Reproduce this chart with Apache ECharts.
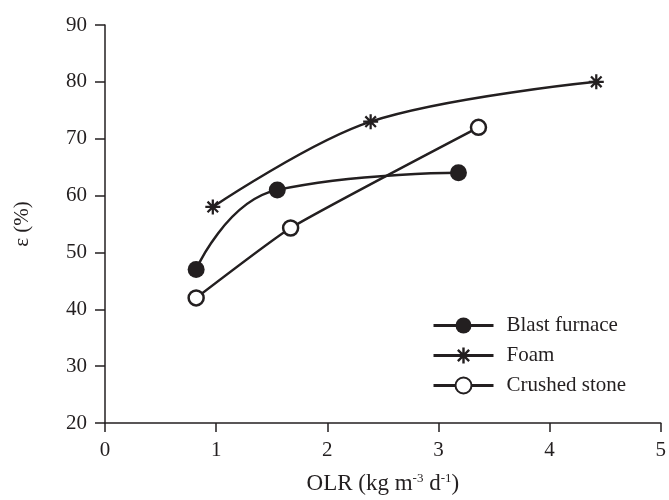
<!DOCTYPE html>
<html><head><meta charset="utf-8">
<script src="https://cdn.jsdelivr.net/npm/echarts@6/dist/echarts.min.js"></script>
<style>html,body{margin:0;padding:0;background:#fff}#c{width:669px;height:500px}</style>
</head><body><div id="c"></div>
<script>
const seriesNames = ['Blast furnace', 'Foam', 'Crushed stone'];
const blastFurnace = [[0.82, 47], [1.55, 61], [3.18, 64]];
const foam = [[0.97, 58], [2.39, 73], [4.42, 80]];
const crushedStone = [[0.82, 42], [1.67, 54.3], [3.36, 72]];
const xTicks = [0, 1, 2, 3, 4, 5];
const yTicks = [20, 30, 40, 50, 60, 70, 80, 90];

const C = '#231f20';
const FONT = 'Liberation Serif';
const asterisk = 'path://M8.5 0H11.5V20H8.5Z M0 8.5H20V11.5H0Z M1.9 4.0L4.0 1.9L18.1 16.0L16.0 18.1Z M16.0 1.9L18.1 4.0L4.0 18.1L1.9 16.0Z';

const chart = echarts.init(document.getElementById('c'), null, {renderer: 'canvas'});
function mk(name, data, symbol, size, smooth, filled) {
  return {
    name, type: 'line', data, smooth,
    symbol, symbolSize: size, showAllSymbol: true,
    lineStyle: {color: C, width: 2.5},
    itemStyle: {color: filled ? C : '#fff', borderColor: C, borderWidth: filled ? 0 : 2.5},
    z: 3
  };
}
chart.setOption({
  animation: false,
  backgroundColor: '#fff',
  grid: {left: 105, right: 6.5, top: 25, bottom: 70},
  xAxis: {
    type: 'value', min: xTicks[0], max: xTicks[xTicks.length - 1], interval: 1,
    name: 'OLR (kg m{s|-3} d{s|-1})', nameLocation: 'middle', nameGap: 49,
    nameTextStyle: {fontFamily: FONT, fontSize: 23, color: C,
      rich: {s: {fontFamily: FONT, fontSize: 13, color: C, verticalAlign: 'top', lineHeight: 16, padding: [0, 0, 10, 0]}}},
    axisLine: {show: true, lineStyle: {color: C, width: 1.5}},
    axisTick: {show: true, length: 9, lineStyle: {color: C, width: 1.5}},
    axisLabel: {fontFamily: FONT, fontSize: 21, color: C, margin: 17},
    splitLine: {show: false}
  },
  yAxis: {
    type: 'value', min: yTicks[0], max: yTicks[yTicks.length - 1], interval: 10,
    name: 'ε (%)', nameLocation: 'middle', nameGap: 72, nameRotate: 90,
    nameTextStyle: {fontFamily: FONT, fontSize: 21, color: C},
    axisLine: {show: true, lineStyle: {color: C, width: 1.5}},
    axisTick: {show: true, length: 10, lineStyle: {color: C, width: 1.5}},
    axisLabel: {fontFamily: FONT, fontSize: 21, color: C, margin: 18},
    splitLine: {show: false}
  },
  legend: {
    data: seriesNames, orient: 'vertical', left: 427, top: 310,
    itemWidth: 60, itemHeight: 20, itemGap: 9,
    lineStyle: {width: 3},
    textStyle: {fontFamily: FONT, fontSize: 21, color: C, padding: [0, 0, 0, 8]}
  },
  series: [
    mk(seriesNames[0], blastFurnace, 'circle', 17, 0.5, true),
    mk(seriesNames[1], foam, asterisk, 15, 0.35, true),
    mk(seriesNames[2], crushedStone, 'circle', 15, 0.15, false)
  ]
});
</script></body></html>
